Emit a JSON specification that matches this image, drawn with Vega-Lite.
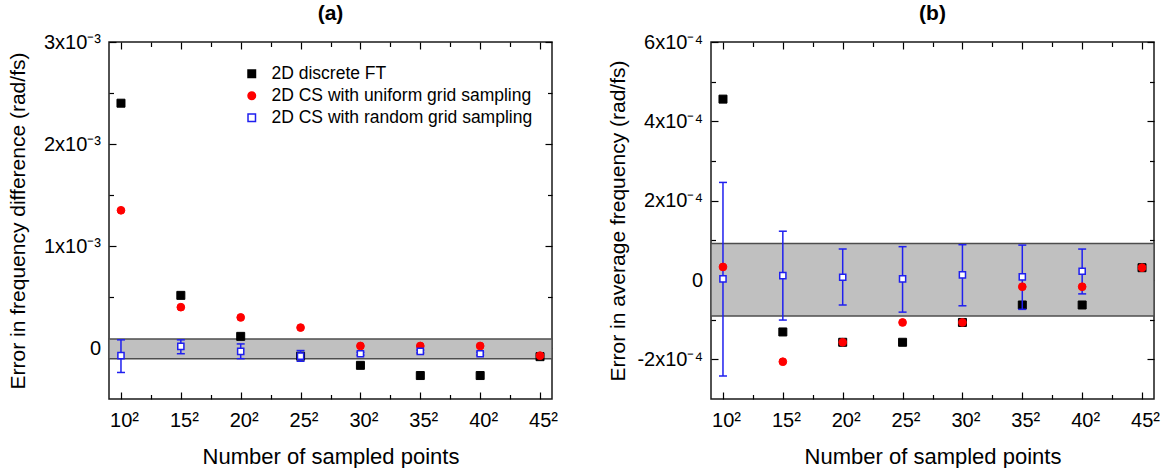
{
  "$schema": "https://vega.github.io/schema/vega-lite/v6.json",
  "background": "white",
  "padding": {"left": 6, "top": 2, "right": 13, "bottom": 0},
  "config": {
    "font": "Liberation Sans",
    "view": {"stroke": "#1a1a1a", "strokeWidth": 1.5},
    "axis": {
      "grid": false,
      "domain": false,
      "tickColor": "#000000",
      "tickWidth": 1.2,
      "labelFont": "Liberation Sans",
      "labelFontSize": 20,
      "labelColor": "#000000",
      "titleFont": "Liberation Sans",
      "titleFontSize": 21,
      "titleFontWeight": "normal",
      "titleColor": "#000000",
      "zindex": 1
    },
    "legend": {
      "labelFont": "Liberation Sans",
      "labelFontSize": 17.5,
      "labelColor": "#000000",
      "symbolSize": 56,
      "symbolStrokeWidth": 1.5,
      "symbolOpacity": 1,
      "labelOffset": 11,
      "rowPadding": 3,
      "padding": 0,
      "labelLimit": 400
    },
    "title": {"font": "Liberation Sans", "fontSize": 21, "fontWeight": "bold", "color": "#000000", "offset": 8, "anchor": "middle"}
  },
  "datasets": {
    "diff_band": [{"lo": -0.000105, "hi": 0.000088}],
    "diff_pts": [
      {"n": 10, "method": "2D discrete FT", "err": 0.00240},
      {"n": 15, "method": "2D discrete FT", "err": 0.000516},
      {"n": 20, "method": "2D discrete FT", "err": 0.000114},
      {"n": 25, "method": "2D discrete FT", "err": -0.00008},
      {"n": 30, "method": "2D discrete FT", "err": -0.00017},
      {"n": 35, "method": "2D discrete FT", "err": -0.00027},
      {"n": 40, "method": "2D discrete FT", "err": -0.00027},
      {"n": 45, "method": "2D discrete FT", "err": -0.000085},
      {"n": 10, "method": "2D CS with uniform grid sampling", "err": 0.00135},
      {"n": 15, "method": "2D CS with uniform grid sampling", "err": 0.00040},
      {"n": 20, "method": "2D CS with uniform grid sampling", "err": 0.00030},
      {"n": 25, "method": "2D CS with uniform grid sampling", "err": 0.00020},
      {"n": 30, "method": "2D CS with uniform grid sampling", "err": 0.00002},
      {"n": 35, "method": "2D CS with uniform grid sampling", "err": 0.00002},
      {"n": 40, "method": "2D CS with uniform grid sampling", "err": 0.00002},
      {"n": 45, "method": "2D CS with uniform grid sampling", "err": -0.000075},
      {"n": 10, "method": "2D CS with random grid sampling", "err": -0.000075, "lo": -0.00024, "hi": 0.00008},
      {"n": 15, "method": "2D CS with random grid sampling", "err": 0.000016, "lo": -0.000056, "hi": 0.00008},
      {"n": 20, "method": "2D CS with random grid sampling", "err": -0.000033, "lo": -0.000105, "hi": 0.00004},
      {"n": 25, "method": "2D CS with random grid sampling", "err": -0.00008, "lo": -0.00013, "hi": -0.000025},
      {"n": 30, "method": "2D CS with random grid sampling", "err": -0.000056, "lo": -0.00007, "hi": -0.000042},
      {"n": 35, "method": "2D CS with random grid sampling", "err": -0.000033, "lo": -0.000048, "hi": -0.00002},
      {"n": 40, "method": "2D CS with random grid sampling", "err": -0.000056, "lo": -0.00007, "hi": -0.000042}
    ],
    "avg_band": [{"lo": -0.000091, "hi": 0.000092}],
    "avg_pts": [
      {"n": 10, "method": "2D discrete FT", "err": 0.000456},
      {"n": 15, "method": "2D discrete FT", "err": -0.000131},
      {"n": 20, "method": "2D discrete FT", "err": -0.000157},
      {"n": 25, "method": "2D discrete FT", "err": -0.000157},
      {"n": 30, "method": "2D discrete FT", "err": -0.000107},
      {"n": 35, "method": "2D discrete FT", "err": -0.000063},
      {"n": 40, "method": "2D discrete FT", "err": -0.000063},
      {"n": 45, "method": "2D discrete FT", "err": 0.000031},
      {"n": 10, "method": "2D CS with uniform grid sampling", "err": 0.000033},
      {"n": 15, "method": "2D CS with uniform grid sampling", "err": -0.000206},
      {"n": 20, "method": "2D CS with uniform grid sampling", "err": -0.000157},
      {"n": 25, "method": "2D CS with uniform grid sampling", "err": -0.000107},
      {"n": 30, "method": "2D CS with uniform grid sampling", "err": -0.000107},
      {"n": 35, "method": "2D CS with uniform grid sampling", "err": -0.000017},
      {"n": 40, "method": "2D CS with uniform grid sampling", "err": -0.000017},
      {"n": 45, "method": "2D CS with uniform grid sampling", "err": 0.000031},
      {"n": 10, "method": "2D CS with random grid sampling", "err": 0.000003, "lo": -0.000242, "hi": 0.000246},
      {"n": 15, "method": "2D CS with random grid sampling", "err": 0.000011, "lo": -0.000101, "hi": 0.000123},
      {"n": 20, "method": "2D CS with random grid sampling", "err": 0.000007, "lo": -0.000063, "hi": 0.000078},
      {"n": 25, "method": "2D CS with random grid sampling", "err": 0.000003, "lo": -0.000081, "hi": 0.000084},
      {"n": 30, "method": "2D CS with random grid sampling", "err": 0.000013, "lo": -0.000065, "hi": 0.000089},
      {"n": 35, "method": "2D CS with random grid sampling", "err": 0.000008, "lo": -0.000074, "hi": 0.000088},
      {"n": 40, "method": "2D CS with random grid sampling", "err": 0.000022, "lo": -0.000035, "hi": 0.000078}
    ]
  },
  "spacing": 159,
  "bounds": "flush",
  "resolve": {"scale": {"fill": "independent", "stroke": "independent", "shape": "independent"}},
  "hconcat": [
    {
      "width": 443,
      "height": 357,
      "title": {"text": "(a)"},
      "resolve": {"axis": {"x": "independent", "y": "independent"}},
      "layer": [
        {
          "data": {"name": "diff_band"},
          "mark": {"type": "rect", "fill": "#c0c0c0", "stroke": "#4d4d4d", "strokeWidth": 1.5, "opacity": 1},
          "encoding": {
            "x": {"datum": 9, "type": "quantitative", "scale": {"domain": [9, 46], "nice": false, "zero": false}, "axis": null},
            "x2": {"datum": 46},
            "y": {"field": "lo", "type": "quantitative", "scale": {"domain": [-0.0005, 0.003], "nice": false, "zero": false}, "axis": null},
            "y2": {"field": "hi"}
          }
        },
        {
          "data": {"name": "diff_pts"},
          "transform": [{"filter": "datum.method == '2D discrete FT'"}],
          "mark": {"type": "point", "size": 64, "strokeWidth": 1, "opacity": 1},
          "encoding": {
            "x": {
              "field": "n", "type": "quantitative",
              "axis": {
                "orient": "bottom",
                "title": "Number of sampled points",
                "titleFontSize": 22,
                "values": [10, 12.5, 15, 17.5, 20, 22.5, 25, 27.5, 30, 32.5, 35, 37.5, 40, 42.5, 45],
                "labelExpr": "datum.value % 5 == 0 ? datum.value + '²' : ''",
                "tickSize": {"condition": {"test": "datum.value % 5 != 0", "value": -4.5}, "value": -7},
                "labelPadding": 18.5,
                "labelOffset": 3,
                "minExtent": 34,
                "maxExtent": 34,
                "titlePadding": 13
              }
            },
            "y": {
              "field": "err", "type": "quantitative",
              "axis": {
                "orient": "left",
                "title": "Error in frequency difference (rad/fs)",
                "values": [0, 0.0005, 0.001, 0.0015, 0.002, 0.0025, 0.003],
                "labelExpr": "abs(datum.value*1e3 - round(datum.value*1e3)) < 1e-6 ? (datum.value == 0 ? '0' : round(datum.value*1e3) + 'x10⁻³') : ''",
                "tickSize": {"condition": {"test": "abs(datum.value*1e3 - round(datum.value*1e3)) > 1e-6", "value": -4.5}, "value": -7},
                "labelPadding": 15.5,
                "minExtent": 67,
                "maxExtent": 67,
                "titlePadding": 14
              }
            },
            "fill": {"field": "method", "type": "nominal", "scale": {"domain": ["2D discrete FT", "2D CS with uniform grid sampling", "2D CS with random grid sampling"], "range": ["#000000", "#ff0000", "#ffffff"]}, "legend": {"title": null, "orient": "none", "legendX": 134, "legendY": 23}},
            "stroke": {"field": "method", "type": "nominal", "scale": {"domain": ["2D discrete FT", "2D CS with uniform grid sampling", "2D CS with random grid sampling"], "range": ["#000000", "#ff0000", "#1f1fef"]}, "legend": {"title": null, "orient": "none", "legendX": 134, "legendY": 23}},
            "shape": {"field": "method", "type": "nominal", "scale": {"domain": ["2D discrete FT", "2D CS with uniform grid sampling", "2D CS with random grid sampling"], "range": ["square", "circle", "square"]}, "legend": {"title": null, "orient": "none", "legendX": 134, "legendY": 23}}
          }
        },
        {
          "data": {"name": "diff_pts"},
          "transform": [{"filter": "isValid(datum.lo)"}],
          "mark": {"type": "rule", "color": "#1f1fef", "strokeWidth": 1.5, "opacity": 1},
          "encoding": {
            "x": {"field": "n", "type": "quantitative", "axis": null},
            "y": {"field": "lo", "type": "quantitative", "axis": null},
            "y2": {"field": "hi"}
          }
        },
        {
          "data": {"name": "diff_pts"},
          "transform": [{"filter": "isValid(datum.lo)"}],
          "mark": {"type": "tick", "orient": "horizontal", "size": 8, "thickness": 1.5, "color": "#1f1fef", "opacity": 1},
          "encoding": {
            "x": {"field": "n", "type": "quantitative", "axis": null},
            "y": {"field": "lo", "type": "quantitative", "axis": null}
          }
        },
        {
          "data": {"name": "diff_pts"},
          "transform": [{"filter": "isValid(datum.hi)"}],
          "mark": {"type": "tick", "orient": "horizontal", "size": 8, "thickness": 1.5, "color": "#1f1fef", "opacity": 1},
          "encoding": {
            "x": {"field": "n", "type": "quantitative", "axis": null},
            "y": {"field": "hi", "type": "quantitative", "axis": null}
          }
        },
        {
          "data": {"name": "diff_pts"},
          "transform": [{"filter": "datum.method == '2D CS with uniform grid sampling'"}],
          "mark": {"type": "point", "size": 60, "strokeWidth": 1, "opacity": 1},
          "encoding": {
            "x": {
              "field": "n", "type": "quantitative",
              "axis": {
                "orient": "top", "title": null, "labels": false,
                "values": [10, 12.5, 15, 17.5, 20, 22.5, 25, 27.5, 30, 32.5, 35, 37.5, 40, 42.5, 45],
                "tickSize": {"condition": {"test": "datum.value % 5 != 0", "value": -4.5}, "value": -7},
                "minExtent": 0, "maxExtent": 0
              }
            },
            "y": {
              "field": "err", "type": "quantitative",
              "axis": {
                "orient": "right", "title": null, "labels": false,
                "values": [0, 0.0005, 0.001, 0.0015, 0.002, 0.0025, 0.003],
                "tickSize": {"condition": {"test": "abs(datum.value*1e3 - round(datum.value*1e3)) > 1e-6", "value": -4.5}, "value": -7},
                "minExtent": 0, "maxExtent": 0
              }
            },
            "fill": {"field": "method", "type": "nominal"},
            "stroke": {"field": "method", "type": "nominal"},
            "shape": {"field": "method", "type": "nominal"}
          }
        },
        {
          "data": {"name": "diff_pts"},
          "transform": [{"filter": "datum.method == '2D CS with random grid sampling'"}],
          "mark": {"type": "point", "size": 38, "strokeWidth": 1.5, "opacity": 1},
          "encoding": {
            "x": {"field": "n", "type": "quantitative", "axis": null},
            "y": {"field": "err", "type": "quantitative", "axis": null},
            "fill": {"field": "method", "type": "nominal"},
            "stroke": {"field": "method", "type": "nominal"},
            "shape": {"field": "method", "type": "nominal"}
          }
        }
      ]
    },
    {
      "width": 443,
      "height": 357,
      "title": {"text": "(b)"},
      "resolve": {"axis": {"x": "independent", "y": "independent"}},
      "layer": [
        {
          "data": {"name": "avg_band"},
          "mark": {"type": "rect", "fill": "#c0c0c0", "stroke": "#4d4d4d", "strokeWidth": 1.5, "opacity": 1},
          "encoding": {
            "x": {"datum": 9, "type": "quantitative", "scale": {"domain": [9, 46], "nice": false, "zero": false}, "axis": null},
            "x2": {"datum": 46},
            "y": {"field": "lo", "type": "quantitative", "scale": {"domain": [-0.0003, 0.0006], "nice": false, "zero": false}, "axis": null},
            "y2": {"field": "hi"}
          }
        },
        {
          "data": {"name": "avg_pts"},
          "transform": [{"filter": "datum.method == '2D discrete FT'"}],
          "mark": {"type": "point", "size": 64, "strokeWidth": 1, "opacity": 1},
          "encoding": {
            "x": {
              "field": "n", "type": "quantitative",
              "axis": {
                "orient": "bottom",
                "title": "Number of sampled points",
                "titleFontSize": 22,
                "values": [10, 12.5, 15, 17.5, 20, 22.5, 25, 27.5, 30, 32.5, 35, 37.5, 40, 42.5, 45],
                "labelExpr": "datum.value % 5 == 0 ? datum.value + '²' : ''",
                "tickSize": {"condition": {"test": "datum.value % 5 != 0", "value": -4.5}, "value": -7},
                "labelPadding": 18.5,
                "labelOffset": 3,
                "minExtent": 34,
                "maxExtent": 34,
                "titlePadding": 13
              }
            },
            "y": {
              "field": "err", "type": "quantitative",
              "axis": {
                "orient": "left",
                "title": "Error in average frequency (rad/fs)",
                "values": [-0.0002, -0.0001, 0, 0.0001, 0.0002, 0.0003, 0.0004, 0.0005, 0.0006],
                "labelExpr": "round(datum.value*1e4) % 2 == 0 ? (round(datum.value*1e4) == 0 ? '0' : round(datum.value*1e4) + 'x10⁻⁴') : ''",
                "tickSize": {"condition": {"test": "round(datum.value*1e4) % 2 != 0", "value": -4.5}, "value": -7},
                "labelPadding": 15.5,
                "minExtent": 67,
                "maxExtent": 67,
                "titlePadding": 16
              }
            },
            "fill": {"field": "method", "type": "nominal", "scale": {"domain": ["2D discrete FT", "2D CS with uniform grid sampling", "2D CS with random grid sampling"], "range": ["#000000", "#ff0000", "#ffffff"]}, "legend": null},
            "stroke": {"field": "method", "type": "nominal", "scale": {"domain": ["2D discrete FT", "2D CS with uniform grid sampling", "2D CS with random grid sampling"], "range": ["#000000", "#ff0000", "#1f1fef"]}, "legend": null},
            "shape": {"field": "method", "type": "nominal", "scale": {"domain": ["2D discrete FT", "2D CS with uniform grid sampling", "2D CS with random grid sampling"], "range": ["square", "circle", "square"]}, "legend": null}
          }
        },
        {
          "data": {"name": "avg_pts"},
          "transform": [{"filter": "isValid(datum.lo)"}],
          "mark": {"type": "rule", "color": "#1f1fef", "strokeWidth": 1.5, "opacity": 1},
          "encoding": {
            "x": {"field": "n", "type": "quantitative", "axis": null},
            "y": {"field": "lo", "type": "quantitative", "axis": null},
            "y2": {"field": "hi"}
          }
        },
        {
          "data": {"name": "avg_pts"},
          "transform": [{"filter": "isValid(datum.lo)"}],
          "mark": {"type": "tick", "orient": "horizontal", "size": 8, "thickness": 1.5, "color": "#1f1fef", "opacity": 1},
          "encoding": {
            "x": {"field": "n", "type": "quantitative", "axis": null},
            "y": {"field": "lo", "type": "quantitative", "axis": null}
          }
        },
        {
          "data": {"name": "avg_pts"},
          "transform": [{"filter": "isValid(datum.hi)"}],
          "mark": {"type": "tick", "orient": "horizontal", "size": 8, "thickness": 1.5, "color": "#1f1fef", "opacity": 1},
          "encoding": {
            "x": {"field": "n", "type": "quantitative", "axis": null},
            "y": {"field": "hi", "type": "quantitative", "axis": null}
          }
        },
        {
          "data": {"name": "avg_pts"},
          "transform": [{"filter": "datum.method == '2D CS with uniform grid sampling'"}],
          "mark": {"type": "point", "size": 60, "strokeWidth": 1, "opacity": 1},
          "encoding": {
            "x": {
              "field": "n", "type": "quantitative",
              "axis": {
                "orient": "top", "title": null, "labels": false,
                "values": [10, 12.5, 15, 17.5, 20, 22.5, 25, 27.5, 30, 32.5, 35, 37.5, 40, 42.5, 45],
                "tickSize": {"condition": {"test": "datum.value % 5 != 0", "value": -4.5}, "value": -7},
                "minExtent": 0, "maxExtent": 0
              }
            },
            "y": {
              "field": "err", "type": "quantitative",
              "axis": {
                "orient": "right", "title": null, "labels": false,
                "values": [-0.0002, -0.0001, 0, 0.0001, 0.0002, 0.0003, 0.0004, 0.0005, 0.0006],
                "tickSize": {"condition": {"test": "round(datum.value*1e4) % 2 != 0", "value": -4.5}, "value": -7},
                "minExtent": 0, "maxExtent": 0
              }
            },
            "fill": {"field": "method", "type": "nominal"},
            "stroke": {"field": "method", "type": "nominal"},
            "shape": {"field": "method", "type": "nominal"}
          }
        },
        {
          "data": {"name": "avg_pts"},
          "transform": [{"filter": "datum.method == '2D CS with random grid sampling'"}],
          "mark": {"type": "point", "size": 38, "strokeWidth": 1.5, "opacity": 1},
          "encoding": {
            "x": {"field": "n", "type": "quantitative", "axis": null},
            "y": {"field": "err", "type": "quantitative", "axis": null},
            "fill": {"field": "method", "type": "nominal"},
            "stroke": {"field": "method", "type": "nominal"},
            "shape": {"field": "method", "type": "nominal"}
          }
        }
      ]
    }
  ]
}
